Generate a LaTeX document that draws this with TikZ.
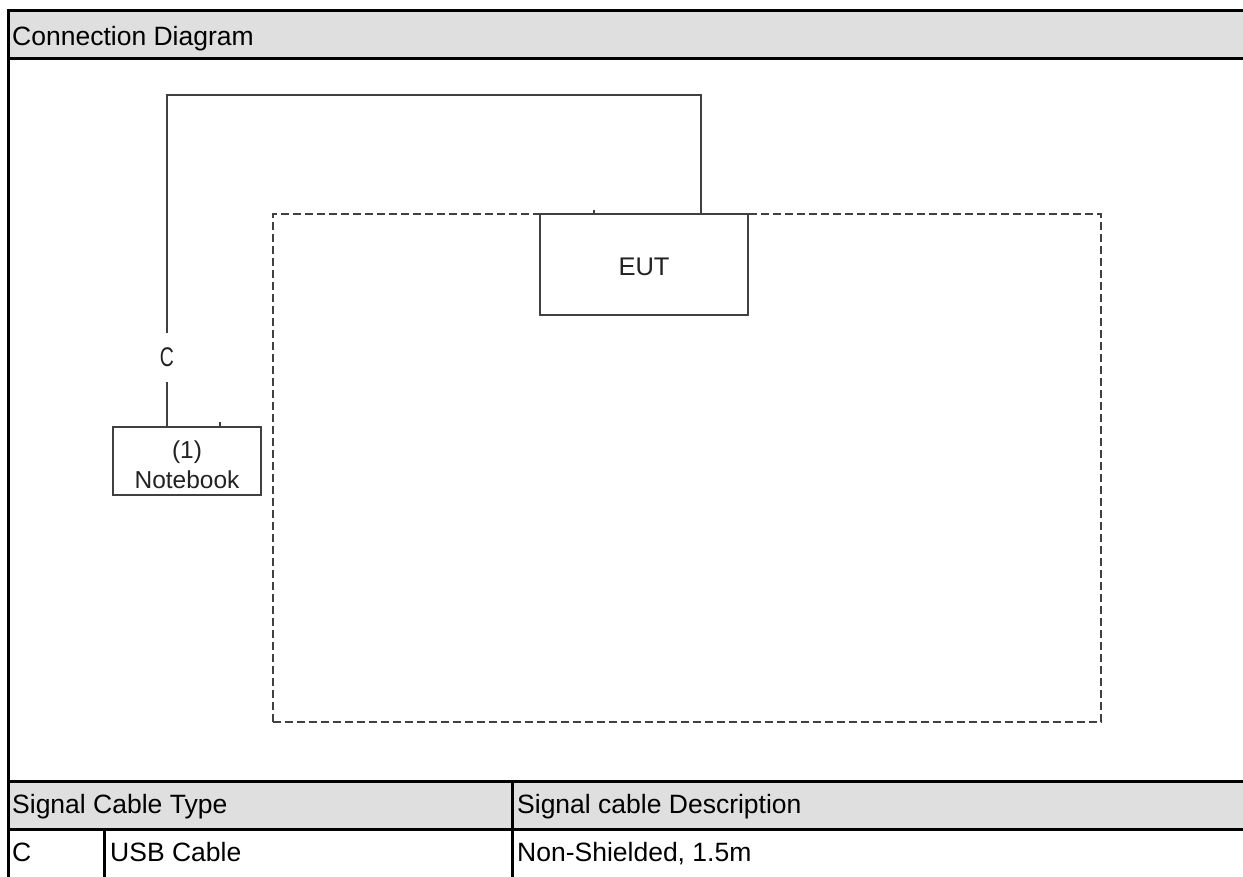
\documentclass[tikz,border=0pt]{standalone}
\usepackage{fontspec}
\setmainfont{Liberation Sans}
\newfontfamily\cadfont[FakeStretch=0.72]{Liberation Sans}
\definecolor{hdrgray}{HTML}{DFDFDF}
\definecolor{linegray}{HTML}{404040}
\definecolor{txtgray}{HTML}{222222}
\begin{document}
\begin{tikzpicture}[x=1pt,y=-1pt,
  frame/.style={line width=3pt,black},
  tabtext/.style={anchor=base west,inner sep=0pt,font=\fontsize{26.5}{30}\selectfont},
  cable/.style={line width=2pt,linegray},
  devbox/.style={draw=linegray,line width=2pt,fill=white,inner sep=0pt},
  devtext/.style={inner sep=0pt,text=txtgray,align=center},
  roombox/.style={draw=linegray,line width=2pt,dash pattern=on 8pt off 4pt,inner sep=0pt},
  tick/.style={line width=1.5pt,linegray}]
\useasboundingbox (0,0) rectangle (1243,876);
\fill[white] (0,0) rectangle (1243,876);
% header bands
\fill[hdrgray] (8,10) rectangle (1250,58);
\fill[hdrgray] (8,781) rectangle (1250,829);
% frame lines
\draw[frame] (1250,10) -- (8,10) -- (8,880);
\draw[frame] (8,58) -- (1250,58);
\draw[frame] (8,781) -- (1250,781);
\draw[frame] (8,829) -- (1250,829);
\draw[frame] (512,781) -- (512,880);
\draw[frame] (104,829) -- (104,880);
% table texts
\node[tabtext] (title) at (12,45) {Connection Diagram};
\node[tabtext] (h1) at (12,813) {Signal Cable Type};
\node[tabtext] (h2) at (517,813) {Signal cable Description};
\node[tabtext] (d1) at (12,861) {C};
\node[tabtext] (d2) at (110,861) {USB Cable};
\node[tabtext] (d3) at (517,861) {Non-Shielded, 1.5m};
% test room
\node[roombox,minimum width=828pt,minimum height=508pt] (room) at (687,468) {};
% devices
\node[devbox,minimum width=208pt,minimum height=101pt] (eut) at (644,264.5) {};
\node[devtext,font=\fontsize{25.5}{28}\selectfont] (euttxt) at ([yshift=-2pt]eut.center) {EUT};
\node[devbox,minimum width=148pt,minimum height=68pt] (nb) at (187,461) {};
\node[devtext,font=\fontsize{24.5}{30}\selectfont] (nbtxt) at ([yshift=-4pt]nb.center) {(1)\\Notebook};
% cable C
\coordinate (c1) at (167,95);
\coordinate (c2) at (701,95);
\node[inner sep=0pt,minimum height=49pt,text=txtgray,font=\cadfont\fontsize{27}{30}\selectfont] (clab) at (167,357.5) {C};
\draw[cable] (eut.north -| c2) -- (c2) -- (c1) -- (clab.north -| c1);
\draw[cable] (clab.south -| c1) -- (nb.north -| c1);
% small ticks
\draw[tick] (eut.north -| 594,0) -- ++(0,-3);
\draw[tick] (nb.north -| 220,0) -- ++(0,-4);
\end{tikzpicture}
\end{document}
